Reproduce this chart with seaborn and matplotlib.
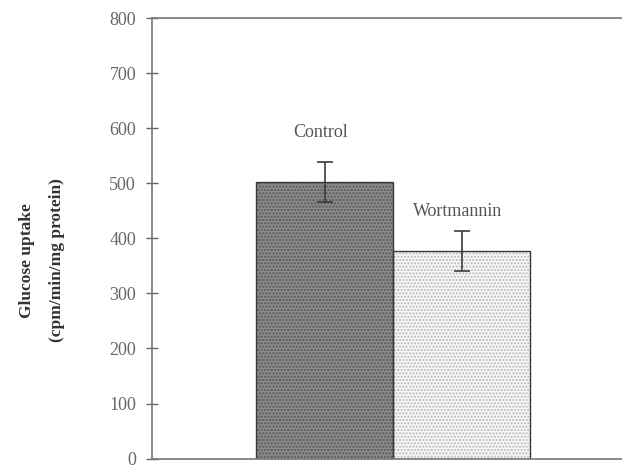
"""Glucose uptake bar chart: control vs wortmannin."""

import seaborn as sns
import matplotlib.pyplot as plt
import pandas as pd

sns.set_theme(style="ticks")
plt.rcParams['font.family'] = ['Liberation Serif', 'DejaVu Serif']

# data
groups = ['Control', 'Wortmannin']
uptake = [502, 377]
sem = [36, 36]
fill_colors = ['#8a8a8a', '#f7f7f7']
dot_colors = ['#555555', '#b8b8b8']
label_offset = [55, 36]

df = pd.DataFrame({'group': groups, 'uptake': uptake})

fig = plt.figure(figsize=(6.22, 4.68), dpi=100)
ax = fig.add_axes([0.2444, 0.02, 0.7556, 0.9415])

# hatched fill
sns.barplot(data=df, x='group', y='uptake', hue='group', palette=fill_colors,
            width=1.0, legend=False, ax=ax, errorbar=None)
for bar, dc in zip(ax.patches, dot_colors):
    bar.set_hatch('.....')
    bar.set_edgecolor(dc)
    bar.set_linewidth(0)

# outlines on top
sns.barplot(data=df, x='group', y='uptake', fill=False, width=1.0,
            color='#3a3a3a', linewidth=1.0, ax=ax, errorbar=None)

ax.errorbar(range(len(groups)), uptake, yerr=sem, fmt='none',
            ecolor='#3c3c3c', elinewidth=1.2, capsize=6, capthick=1.2)

for i, g in enumerate(groups):
    ax.text(i - 0.03, uptake[i] + sem[i] + label_offset[i], g,
            ha='center', va='center', fontsize=13, color='#555555')

ax.set_xlim(-1.26, 2.17)
ax.set_ylim(0, 800)
ax.set_yticks(range(0, 801, 100))
ax.set_xticks([])
ax.set_xlabel('')
ax.set_ylabel('Glucose uptake\n(cpm/min/mg protein)', fontsize=12.5,
              fontweight='bold', color='#333333', linespacing=2.2)
ax.yaxis.set_label_coords(-0.185, 0.45)
ax.tick_params(axis='y', direction='inout', length=9, width=1,
               color='#666666', labelcolor='#666666', labelsize=13, pad=7)
for side in ['left', 'bottom', 'top']:
    ax.spines[side].set_color('#777777')
    ax.spines[side].set_linewidth(1.2)
ax.spines['right'].set_visible(False)

plt.savefig('out.png', dpi=100)
plt.close()
